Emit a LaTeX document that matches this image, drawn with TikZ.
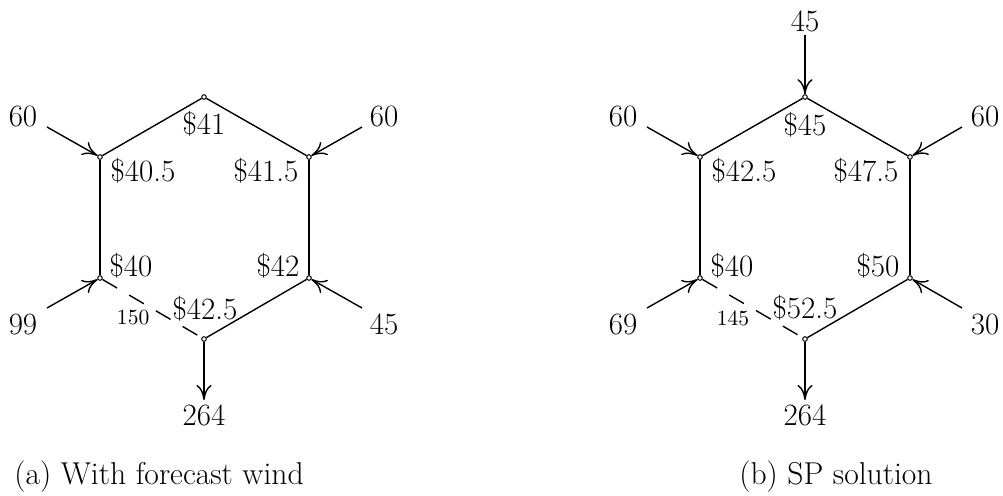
\documentclass[tikz,border=0pt]{standalone}
\usetikzlibrary{arrows.meta}
\begin{document}
\begin{tikzpicture}[x=0.5pt,y=-0.5pt,
  bus/.style={circle, draw, fill=white, inner sep=0pt, minimum size=2.3pt, line width=0.5pt},
  lbl/.style={font=\fontsize{15.5}{18}\selectfont, inner sep=0pt},
  smalllbl/.style={font=\fontsize{10.8}{12}\selectfont, inner sep=0pt},
  lineseg/.style={line width=0.7pt},
  dashseg/.style={line width=0.7pt, dash pattern=on 8.5pt off 7pt},
  inflow/.style={line width=0.7pt, -{Computer Modern Rightarrow[length=7.5pt,width=7.5pt]}},
  captext/.style={font=\fontsize{15.8}{18}\selectfont, inner sep=0pt}]
\useasboundingbox (0,0) rectangle (1003,495);

% ---------- (a) ----------
\node[bus] (L1) at (204,97) {};
\node[bus] (L2) at (100,157) {};
\node[bus] (L3) at (309,157) {};
\node[bus] (L4) at (100,278) {};
\node[bus] (L5) at (309,278) {};
\node[bus] (L6) at (204,339) {};
\draw[lineseg] (L2) -- (L1);
\draw[lineseg] (L1) -- (L3);
\draw[lineseg] (L2) -- (L4);
\draw[lineseg] (L3) -- (L5);
\draw[lineseg] (L5) -- (L6);
\draw[dashseg] (L4) -- node[pos=0.31, yshift=-10.2pt, smalllbl] {150} (L6);

\coordinate (a1) at (47,127);
\coordinate (a2) at (362,127);
\coordinate (a3) at (47,308);
\coordinate (a4) at (362,308);
\coordinate (a5) at (204,400);
\draw[inflow] (a1) -- (L2);
\draw[inflow] (a2) -- (L3);
\draw[inflow] (a3) -- (L4);
\draw[inflow] (a4) -- (L5);
\draw[inflow] (L6) -- (a5);

\node[lbl] (ta1) at (23,116) {60};
\node[lbl] (ta2) at (384,116) {60};
\node[lbl] (ta3) at (23,324) {99};
\node[lbl] (ta4) at (384,324) {45};
\node[lbl] (ta5) at (204,415) {264};

\node[lbl] (pa1) at (204,124) {\$41};
\node[lbl] (pa2) at (143,171) {\$40.5};
\node[lbl] (pa3) at (266,171) {\$41.5};
\node[lbl] (pa4) at (131,266) {\$40};
\node[lbl] (pa5) at (278,266) {\$42};
\node[lbl] (pa6) at (205,309) {\$42.5};

\node[captext, anchor=base west] (capa) at (14,484) {(a) With forecast wind};

% ---------- (b) ----------
\node[bus] (R1) at (805,97) {};
\node[bus] (R2) at (700,157) {};
\node[bus] (R3) at (910,157) {};
\node[bus] (R4) at (700,278) {};
\node[bus] (R5) at (910,278) {};
\node[bus] (R6) at (805,339) {};
\draw[lineseg] (R2) -- (R1);
\draw[lineseg] (R1) -- (R3);
\draw[lineseg] (R2) -- (R4);
\draw[lineseg] (R3) -- (R5);
\draw[lineseg] (R5) -- (R6);
\draw[dashseg] (R4) -- node[pos=0.305, yshift=-10.8pt, smalllbl] {145} (R6);

\coordinate (b0) at (805,35);
\coordinate (b1) at (647,127);
\coordinate (b2) at (962,127);
\coordinate (b3) at (647,308);
\coordinate (b4) at (962,308);
\coordinate (b5) at (805,400);
\draw[inflow] (b0) -- (R1);
\draw[inflow] (b1) -- (R2);
\draw[inflow] (b2) -- (R3);
\draw[inflow] (b3) -- (R4);
\draw[inflow] (b4) -- (R5);
\draw[inflow] (R6) -- (b5);

\node[lbl] (tb0) at (805,21) {45};
\node[lbl] (tb1) at (623,116) {60};
\node[lbl] (tb2) at (985,116) {60};
\node[lbl] (tb3) at (623,324) {69};
\node[lbl] (tb4) at (985,324) {30};
\node[lbl] (tb5) at (805,415) {264};

\node[lbl] (pb1) at (805,125) {\$45};
\node[lbl] (pb2) at (744,171) {\$42.5};
\node[lbl] (pb3) at (866,171) {\$47.5};
\node[lbl] (pb4) at (732,266) {\$40};
\node[lbl] (pb5) at (878,266) {\$50};
\node[lbl] (pb6) at (805,308) {\$52.5};

\node[captext, anchor=base east] (capb) at (933,484) {(b) SP solution};
\end{tikzpicture}
\end{document}
